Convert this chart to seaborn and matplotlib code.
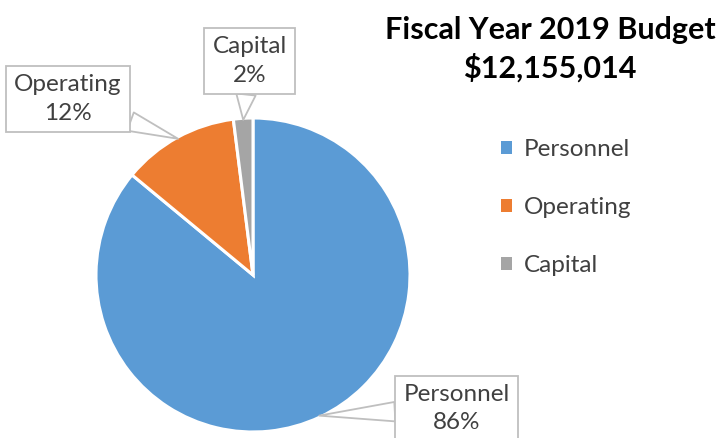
import matplotlib
matplotlib.use("Agg")
import matplotlib.pyplot as plt
import seaborn as sns
import numpy as np

# Budget breakdown
categories = ["Personnel", "Operating", "Capital"]
shares = [86, 12, 2]
title_lines = ["Fiscal Year 2019 Budget", "$12,155,014"]

sns.set_theme(style="white")
plt.rcParams["font.family"] = ["Lato", "DejaVu Sans"]

colors = ["#5B9BD5", "#ED7D31", "#A5A5A5"]

W, H = 719, 438
fig = plt.figure(figsize=(W / 100, H / 100), dpi=100)
fig.patch.set_facecolor("white")

# pie axes: centre (253, 275) px from top-left, radius 157 px
cx, cy, r = 253, 275, 157
ax = fig.add_axes([(cx - r) / W, (H - cy - r) / H, 2 * r / W, 2 * r / H])
wedges, _ = ax.pie(
    shares, colors=colors, startangle=90, counterclock=False,
    wedgeprops=dict(edgecolor="white", linewidth=2.2), radius=1.0,
)
ax.set_xlim(-1, 1)
ax.set_ylim(-1, 1)
ax.set_aspect("equal")
ax.axis("off")

# callout labels: text position in data units (radius = 1)
label_pos = {
    "Personnel": (1.297, -0.85),
    "Operating": (-1.178, 1.121),
    "Capital": (-0.022, 1.363),
}
for w, name, val in zip(wedges, categories, shares):
    mid = np.deg2rad((w.theta1 + w.theta2) / 2)
    tip = (np.cos(mid) * 0.99, np.sin(mid) * 0.99)
    ax.annotate(
        f"{name}\n{val}%", xy=tip, xytext=label_pos[name],
        ha="center", va="center", fontsize=17.5, color="#404040",
        linespacing=1.45, annotation_clip=False,
        bbox=dict(boxstyle="square,pad=0.33", fc="white", ec="#BFBFBF", lw=1.3),
        arrowprops=dict(arrowstyle="wedge,tail_width=0.8,shrink_factor=0.5",
                        fc="white", ec="#BFBFBF", lw=1.3, shrinkA=0, shrinkB=0),
    )

fig.text(550 / W, 1 - 30 / H, title_lines[0], ha="center", va="center",
         fontsize=22, fontweight="bold", color="black")
fig.text(550 / W, 1 - 68 / H, title_lines[1], ha="center", va="center",
         fontsize=22, fontweight="bold", color="black")

leg = fig.legend(
    wedges, categories, loc="upper left",
    bbox_to_anchor=(479 / W, 1 - 117 / H), frameon=False,
    fontsize=17.5, handlelength=0.45, handleheight=0.45,
    labelspacing=1.52, handletextpad=0.5,
)
for t in leg.get_texts():
    t.set_color("#404040")
for h in leg.legend_handles:
    h.set_edgecolor("none")

fig.savefig("out.png", dpi=100, facecolor="white")
